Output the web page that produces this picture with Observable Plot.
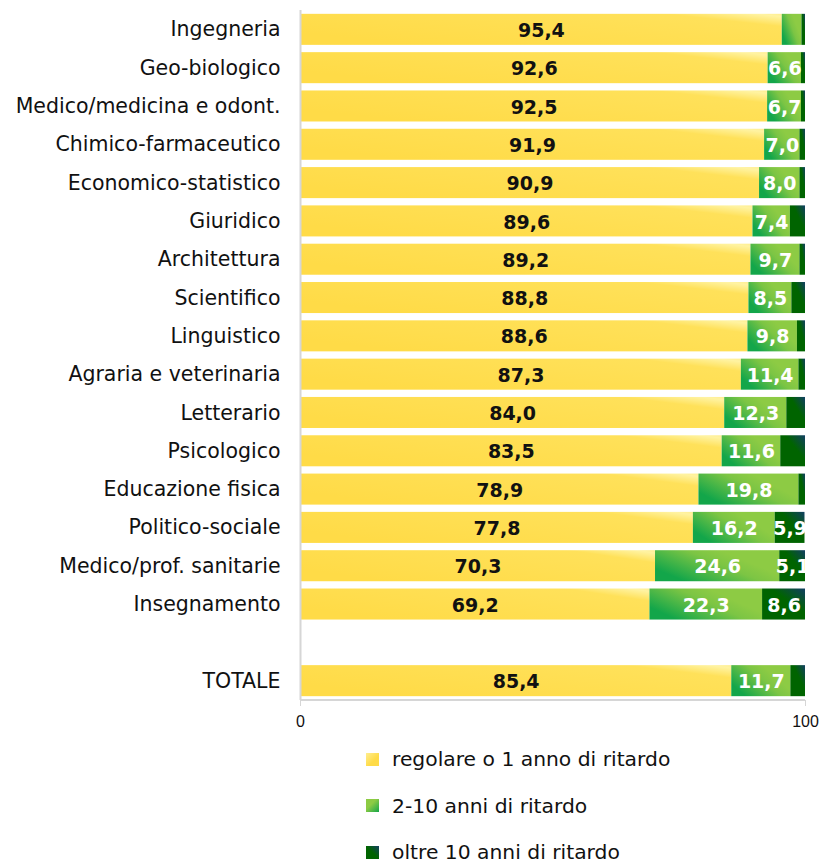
<!DOCTYPE html>
<html>
<head>
<meta charset="utf-8">
<script src="https://cdn.jsdelivr.net/npm/d3@7"></script>
<script src="https://cdn.jsdelivr.net/npm/@observablehq/plot@0.6"></script>
<style>
  body { margin: 0; background: #fff; }
  #chart { width: 821px; }
  .legend { font-family: "DejaVu Sans", sans-serif; font-size: 20.3px; color: #111; margin-left: 366px; margin-top: -4px; }
  .legend .item { display: flex; align-items: center; height: 46.5px; }
  .legend .sw { width: 13px; height: 13px; margin-right: 13px; }
  .xtl { font-size: 16px !important; }
</style>
</head>
<body>
<div id="chart"></div>
<script>
const categories = [
  "Ingegneria", "Geo-biologico", "Medico/medicina e odont.", "Chimico-farmaceutico",
  "Economico-statistico", "Giuridico", "Architettura", "Scientifico", "Linguistico",
  "Agraria e veterinaria", "Letterario", "Psicologico", "Educazione fisica",
  "Politico-sociale", "Medico/prof. sanitarie", "Insegnamento", "", "TOTALE"
];
const regolare = [95.4, 92.6, 92.5, 91.9, 90.9, 89.6, 89.2, 88.8, 88.6, 87.3, 84.0, 83.5, 78.9, 77.8, 70.3, 69.2, null, 85.4];
const ritardo2_10 = [3.9, 6.6, 6.7, 7.0, 8.0, 7.4, 9.7, 8.5, 9.8, 11.4, 12.3, 11.6, 19.8, 16.2, 24.6, 22.3, null, 11.7];
const oltre10 = [0.7, 0.8, 0.8, 1.1, 1.1, 3.0, 1.1, 2.7, 1.6, 1.3, 3.7, 4.9, 1.3, 5.9, 5.1, 8.6, null, 2.9];
const seriesNames = ["regolare o 1 anno di ritardo", "2-10 anni di ritardo", "oltre 10 anni di ritardo"];
const xTicks = [0, 100];

const series = [regolare, ritardo2_10, oltre10];
const fills = ["url(#gY)", "url(#gG)", "url(#gD)"];
const textFills = ["#111", "#fff", "#fff"];

const segs = [];
categories.forEach((c, i) => {
  if (regolare[i] == null) return;
  let start = 0;
  series.forEach((s, k) => {
    const v = s[i];
    segs.push({cat: c, k, value: v, x1: start, x2: Math.min(start + v, 100)});
    start += v;
  });
});
const fmt = v => v.toFixed(1).replace(".", ",");
const font = "'DejaVu Sans', sans-serif";

const barMarks = [0, 1, 2].map(k => Plot.barX(segs.filter(d => d.k === k), {
  x1: "x1", x2: "x2", y: "cat", fill: fills[k]
}));
const textMarks = [0, 1, 2].map(k => Plot.text(segs.filter(d => d.k === k && d.value >= 5), {
  x: d => (d.x1 + d.x2) / 2, y: "cat", text: d => fmt(d.value),
  fill: textFills[k], fontWeight: "bold", fontSize: 19, fontFamily: font, dy: 1
}));

const plot = Plot.plot({
  width: 821,
  height: 740,
  marginLeft: 300,
  marginRight: 16,
  marginTop: 10,
  marginBottom: 40,
  style: {fontFamily: font, fontSize: "20.5px", color: "#111", background: "#fff"},
  x: {domain: [0, 100], axis: null},
  y: {domain: categories, round: false, paddingInner: 0.19, paddingOuter: 0.1, tickSize: 0, tickPadding: 20, label: null},
  marks: [
    ...barMarks,
    ...textMarks,
    Plot.ruleX([0], {stroke: "#d6d6d6", strokeWidth: 2}),
    Plot.axisX({ticks: xTicks, tickSize: 6, stroke: "#d6d6d6", tickFormat: () => "", label: null}),
    Plot.text(xTicks, {x: d => d, frameAnchor: "bottom", dy: 26, text: d => String(d), fontSize: 16, fontFamily: "'Liberation Sans', Arial, sans-serif", fill: "#111", className: "xtl"})
  ]
});

// gradients
const ns = "http://www.w3.org/2000/svg";
const defs = document.createElementNS(ns, "defs");
defs.innerHTML = `
  <linearGradient id="gY" x1="0" y1="0.6" x2="1" y2="0">
    <stop offset="0" stop-color="#FFDB47"/>
    <stop offset="0.82" stop-color="#FFE15A"/>
    <stop offset="0.96" stop-color="#FFF3A2"/>
    <stop offset="1" stop-color="#FFEE90"/>
  </linearGradient>
  <linearGradient id="gG" x1="0" y1="0.6" x2="1" y2="0">
    <stop offset="0" stop-color="#13A64A"/>
    <stop offset="0.45" stop-color="#7CC544"/>
    <stop offset="0.65" stop-color="#8DCB44"/>
    <stop offset="1" stop-color="#8DCB44"/>
  </linearGradient>
  <linearGradient id="gD" x1="0" y1="1" x2="1" y2="0">
    <stop offset="0" stop-color="#006400"/>
    <stop offset="0.6" stop-color="#006400"/>
    <stop offset="1" stop-color="#123F63"/>
  </linearGradient>`;
plot.insertBefore(defs, plot.firstChild);

// baseline of x axis, placed with the plot's own x scale
const xs = plot.scale("x");
const base = document.createElementNS(ns, "line");
base.setAttribute("x1", xs.apply(0));
base.setAttribute("x2", xs.apply(100));
base.setAttribute("y1", 700);
base.setAttribute("y2", 700);
base.setAttribute("stroke", "#d6d6d6");
base.setAttribute("stroke-width", 2);
plot.appendChild(base);

document.getElementById("chart").appendChild(plot);

// legend
const legend = document.createElement("div");
legend.className = "legend";
const swatchColors = ["linear-gradient(135deg,#FFEE90,#FFDB47 60%)", "linear-gradient(135deg,#8DCB44 40%,#13A64A)", "linear-gradient(225deg,#123F63,#006400 50%)"];
seriesNames.forEach((n, i) => {
  const it = document.createElement("div");
  it.className = "item";
  const sw = document.createElement("span");
  sw.className = "sw";
  sw.style.background = swatchColors[i];
  const t = document.createElement("span");
  t.textContent = n;
  it.appendChild(sw); it.appendChild(t);
  legend.appendChild(it);
});
document.getElementById("chart").appendChild(legend);
</script>
</body>
</html>
